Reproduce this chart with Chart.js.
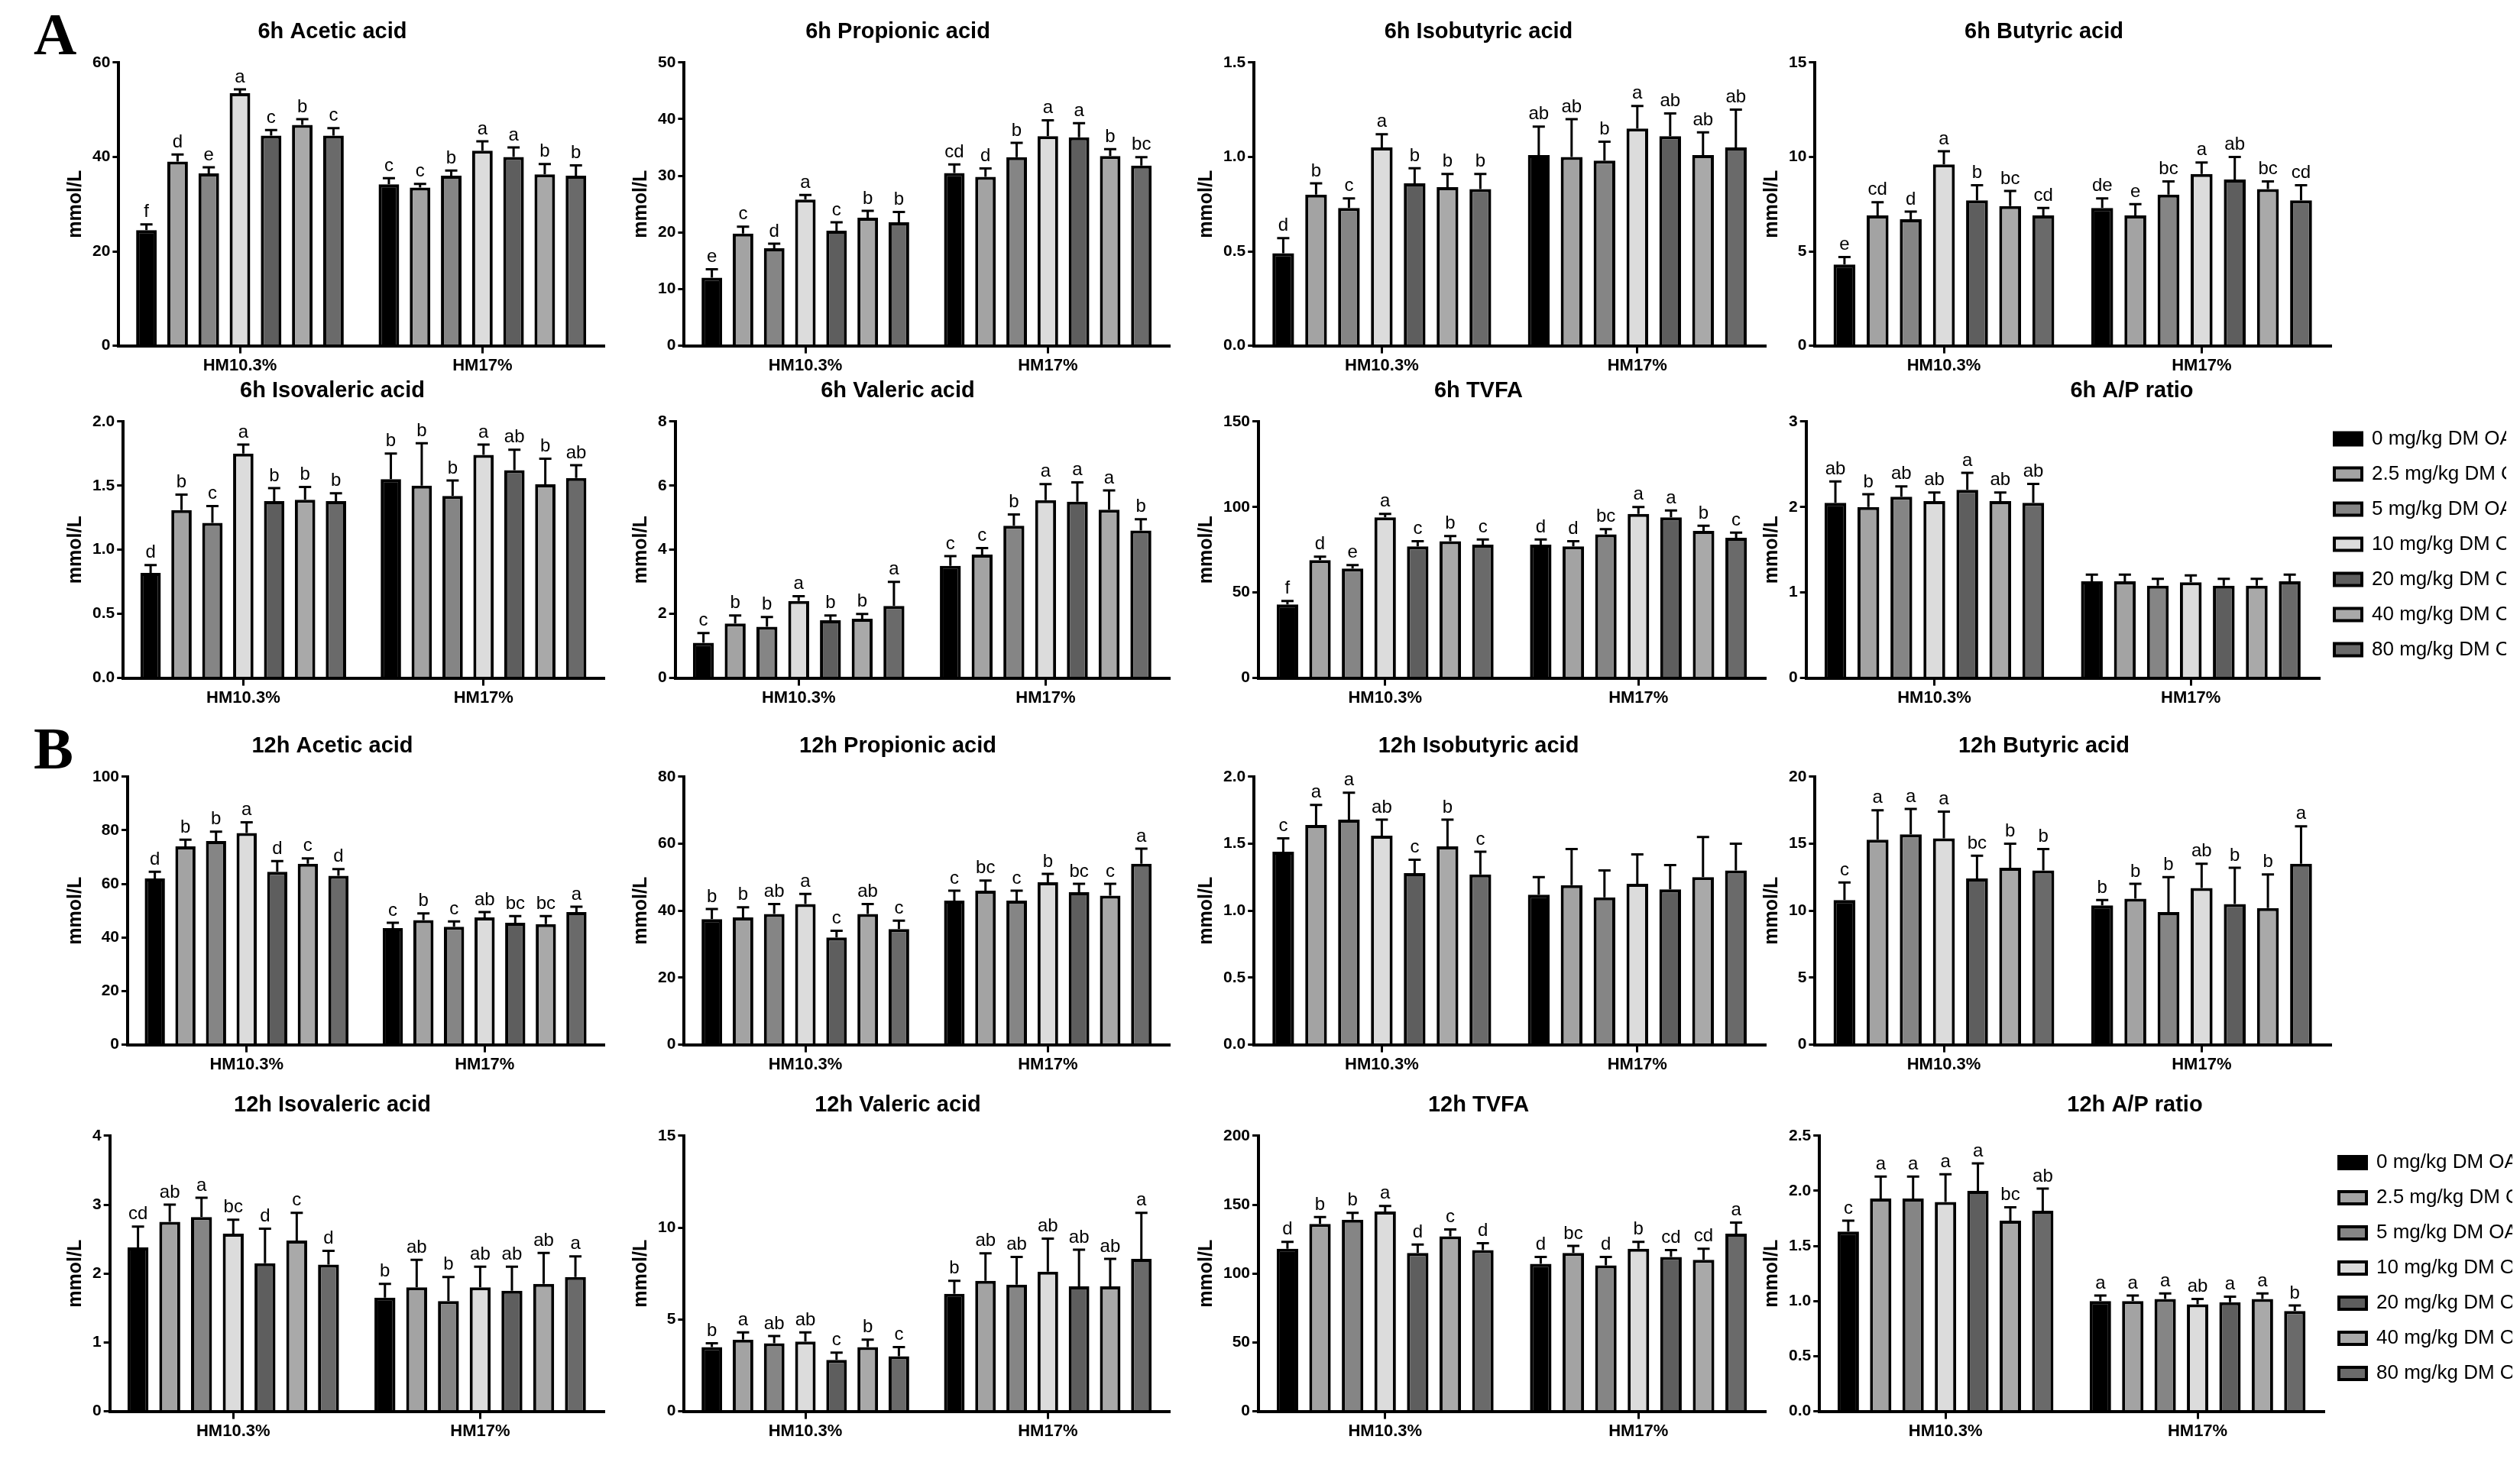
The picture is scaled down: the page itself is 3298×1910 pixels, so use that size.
<!DOCTYPE html>
<html><head><meta charset="utf-8">
<script src="https://cdn.jsdelivr.net/npm/chart.js@4.4.1/dist/chart.umd.min.js"></script>
<style>
body{margin:0;background:#fff;width:3298px;height:1910px;position:relative;overflow:hidden}
.p{position:absolute}
.lab{position:absolute;font-family:"Liberation Serif",serif;font-weight:bold;font-size:78px}
</style></head><body>
<div class="lab" style="left:44px;top:0px">A</div>
<div class="lab" style="left:44px;top:935px">B</div>
<script>
const groups = ["HM10.3%", "HM17%"];
const doses = ["0 mg/kg DM OA","2.5 mg/kg DM OA","5 mg/kg DM OA","10 mg/kg DM OA","20 mg/kg DM OA","40 mg/kg DM OA","80 mg/kg DM OA"];
const fills = ["#000000","#a3a3a3","#858585","#dcdcdc","#5e5e5e","#a9a9a9","#6a6a6a"];

// each panel: title, y max, tick step, means [HM10.3, HM17] per dose, errors, letters
const titles = ["6h Acetic acid","6h Propionic acid","6h Isobutyric acid","6h Butyric acid",
  "6h Isovaleric acid","6h Valeric acid","6h TVFA","6h A/P ratio",
  "12h Acetic acid","12h Propionic acid","12h Isobutyric acid","12h Butyric acid",
  "12h Isovaleric acid","12h Valeric acid","12h TVFA","12h A/P ratio"];
const yMax = [60,50,1.5,15, 2,8,150,3, 100,80,2,20, 4,15,200,2.5];
const yStep = [20,10,0.5,5, 0.5,2,50,1, 20,20,0.5,5, 1,5,50,0.5];
const yDec = [0,0,1,0, 1,0,0,0, 0,0,1,0, 0,0,0,1];

const means10 = [
  [24.5,39,36.5,53.5,44.5,46.8,44.5],[12,19.8,17.2,25.8,20.3,22.6,21.8],[0.49,0.8,0.73,1.05,0.86,0.84,0.83],[4.3,6.9,6.7,9.6,7.7,7.4,6.9],
  [0.82,1.31,1.21,1.75,1.38,1.39,1.38],[1.1,1.7,1.6,2.4,1.8,1.85,2.25],[43,69,64,94,77,80,78],[2.05,2.0,2.12,2.07,2.2,2.07,2.05],
  [62,74,76,79,64.5,67.5,63],[37.5,38,39,42,32,39,34.5],[1.44,1.64,1.68,1.56,1.28,1.48,1.27],[10.8,15.3,15.7,15.4,12.4,13.2,13],
  [2.38,2.75,2.82,2.58,2.15,2.48,2.13],[3.5,3.9,3.7,3.8,2.8,3.5,3.0],[118,136,139,145,115,127,117],[1.63,1.93,1.93,1.9,2.0,1.73,1.82]];
const means17 = [
  [34.2,33.5,36,41.3,40,36.3,36],[30.5,29.8,33.3,37,36.8,33.5,31.8],[1.01,1.0,0.98,1.15,1.11,1.01,1.05],[7.3,6.9,8.0,9.1,8.8,8.3,7.7],
  [1.55,1.5,1.42,1.74,1.62,1.51,1.56],[3.5,3.85,4.75,5.55,5.5,5.25,4.6],[78,77,84,96,94,86,82],[1.13,1.13,1.08,1.12,1.08,1.08,1.13],
  [43.5,46.5,44,47.5,45.5,45,49.5],[43,46,43,48.5,45.5,44.5,54],[1.12,1.19,1.1,1.2,1.16,1.25,1.3],[10.4,10.9,9.9,11.7,10.5,10.2,13.5],
  [1.65,1.8,1.6,1.8,1.75,1.85,1.95],[6.4,7.1,6.9,7.6,6.8,6.8,8.3],[107,115,106,118,112,110,129],[1.0,1.0,1.02,0.97,0.99,1.02,0.91]];
const err10 = [
  [1.2,1.5,1.3,0.8,1.2,1.2,1.6],[1.5,1.2,0.8,0.8,1.5,1.2,1.8],[.08,.06,.05,.07,.08,.07,.08],[.4,.7,.4,.7,.8,.8,.4],
  [.06,.12,.13,.07,.1,.1,.06],[.3,.25,.3,.15,.15,.15,.75],[2,2,2,2,3,3,3],[.25,.15,.12,.1,.2,.1,.22],
  [2.5,2.5,3.5,4,4,2,2.5],[3,3,3,3,2,3,2.5],[.1,.15,.2,.12,.1,.2,.17],[1.3,2.2,1.9,2,1.7,1.8,1.6],
  [.3,.25,.28,.2,.5,.4,.2],[.2,.4,.4,.5,.4,.4,.5],[5,5,5,4,6,5,5],[.1,.2,.2,.25,.25,.12,.2]];
const err17 = [
  [1.3,0.8,1.1,2,2,2.2,2.2],[1.5,1.5,2.5,2.8,2.5,1.2,1.5],[.15,.2,.1,.12,.12,.12,.2],[.5,.6,.7,.6,1.2,.4,.8],
  [.2,.33,.12,.08,.16,.2,.1],[.3,.2,.35,.5,.6,.6,.35],[3,3,3,4,4,3,3],[.08,.08,.08,.08,.08,.08,.08],
  [2,2.5,2,2,2.5,3,2],[3,3,3,2.5,2.5,3.5,4.5],[.13,.27,.2,.22,.18,.3,.2],[.4,1.1,2.6,1.8,2.7,2.5,2.8],
  [.2,.4,.35,.3,.35,.45,.3],[.7,1.5,1.5,1.8,2,1.5,2.5],[5,5,6,5,5,8,8],[.05,.05,.05,.05,.05,.05,.05]];
const let10 = [
  "f d e a c b c","e c d a c b b","d b c a b b b","e cd d a b bc cd",
  "d b c a b b b","c b b a b b a","f d e a c b c","ab b ab ab a ab ab",
  "d b b a d c d","b b ab a c ab c","c a a ab c b c","c a a a bc b b",
  "cd ab a bc d c d","b a ab ab c b c","d b b a d c d","c a a a a bc ab"];
const let17 = [
  "c c b a a b b","cd d b a a b bc","ab ab b a ab ab ab","de e bc a ab bc cd",
  "b b b a ab b ab","c c b a a a b","d d bc a a b c","",
  "c b c ab bc bc a","c bc c b bc c a","","b b b ab b b a",
  "b ab b ab ab ab a","b ab ab ab ab ab a","d bc d b cd cd a","a a a ab a a b"];

// chart boxes [left, top, width, height]
const boxes = [
  [80,15,720,480],[820,15,720,480],[1560,15,760,480],[2300,15,760,480],
  [80,485,720,445],[820,485,720,445],[1560,485,760,445],[2300,485,990,445],
  [80,950,720,460],[820,950,720,460],[1560,950,760,460],[2300,950,760,460],
  [80,1420,720,470],[820,1420,720,470],[1560,1420,760,470],[2300,1420,998,470]];

const FONT = "'Liberation Sans Narrow','Liberation Sans',Arial,sans-serif";

const errPlugin = {
  id: 'errbars',
  afterDatasetsDraw(chart) {
    const k = chart.config.options.plugins.errbars.k;
    const ctx = chart.ctx, ys = chart.scales.y;
    ctx.save();
    chart.data.datasets.forEach((ds, d) => {
      chart.getDatasetMeta(d).data.forEach((bar, g) => {
        const e = (g === 0 ? err10 : err17)[k][d];
        const top = ys.getPixelForValue(ds.data[g] + e);
        ctx.strokeStyle = '#000'; ctx.lineWidth = 3;
        ctx.beginPath();
        ctx.moveTo(bar.x, bar.y); ctx.lineTo(bar.x, top);
        ctx.moveTo(bar.x - 8, top); ctx.lineTo(bar.x + 8, top);
        ctx.stroke();
        const lt = (g === 0 ? let10 : let17)[k];
        if (lt) {
          ctx.fillStyle = '#000'; ctx.font = "24px " + FONT;
          ctx.textAlign = 'center'; ctx.textBaseline = 'bottom';
          ctx.fillText(lt.split(' ')[d], bar.x, top - 4);
        }
      });
    });
    ctx.restore();
  }
};

titles.forEach((t, k) => {
  const b = boxes[k];
  const box = document.createElement('div');
  box.className = 'p';
  box.style.left = b[0] + 'px'; box.style.top = b[1] + 'px';
  box.style.width = b[2] + 'px'; box.style.height = b[3] + 'px';
  const c = document.createElement('canvas');
  box.appendChild(c);
  document.body.appendChild(box);
  const withLegend = (k === 7 || k === 15);
  new Chart(c, {
    type: 'bar',
    data: {
      labels: groups,
      datasets: doses.map((d, i) => ({
        label: d, data: [means10[k][i], means17[k][i]],
        backgroundColor: fills[i], borderColor: '#000', borderWidth: 4,
        categoryPercentage: 0.9, barPercentage: 0.66
      }))
    },
    options: {
      responsive: true, maintainAspectRatio: false, animation: false,
      layout: { padding: { top: 10, right: 10 } },
      plugins: {
        errbars: { k },
        title: { display: true, text: t, color: '#000', font: { family: FONT, size: 29, weight: 'bold' }, padding: { bottom: 22 } },
        legend: withLegend ? {
          position: 'right',
          labels: { color: '#000', font: { family: "'Liberation Sans',Arial,sans-serif", size: 26 }, boxWidth: 36, boxHeight: 16, padding: 20 }
        } : { display: false },
        tooltip: { enabled: false }
      },
      scales: {
        x: {
          grid: { display: true, drawOnChartArea: false, offset: false, color: '#000', lineWidth: 3, tickLength: 10 },
          border: { color: '#000', width: 4 },
          ticks: { color: '#000', font: { family: FONT, size: 22, weight: 'bold' } }
        },
        y: {
          min: 0, max: yMax[k],
          grid: { display: true, drawOnChartArea: false, color: '#000', lineWidth: 3, tickLength: 8 },
          border: { color: '#000', width: 4 },
          title: { display: true, text: 'mmol/L', color: '#000', font: { family: FONT, size: 25, weight: 'bold' } },
          ticks: { stepSize: yStep[k], color: '#000', font: { family: FONT, size: 21, weight: 'bold' },
            callback: v => v.toFixed(yDec[k]) }
        }
      }
    },
    plugins: [errPlugin]
  });
});
</script>
</body></html>
